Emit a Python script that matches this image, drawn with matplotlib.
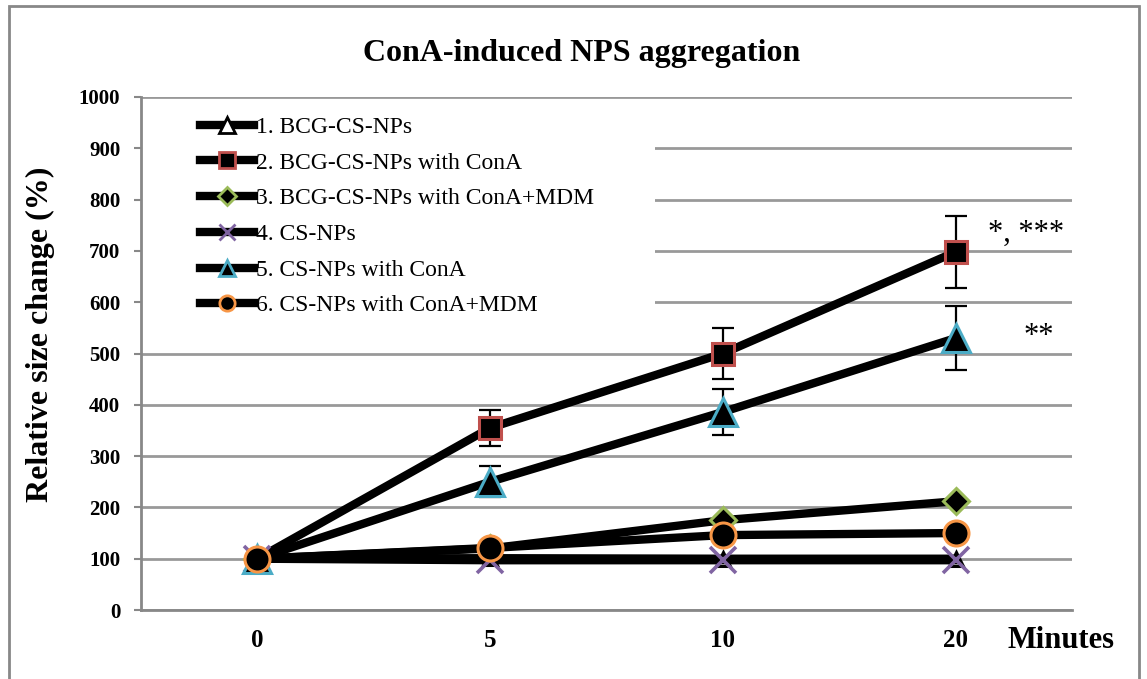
import matplotlib
matplotlib.use("Agg")
import matplotlib.pyplot as plt
from matplotlib.patches import Rectangle
from matplotlib.lines import Line2D

# ---- data ----
time_labels = ["0", "5", "10", "20"]
series_names = ["1. BCG-CS-NPs", "2. BCG-CS-NPs with ConA", "3. BCG-CS-NPs with ConA+MDM",
                "4. CS-NPs", "5. CS-NPs with ConA", "6. CS-NPs with ConA+MDM"]
s1 = [100, 101, 100, 100]
s2 = [100, 355, 500, 698]
s3 = [100, 120, 175, 212]
s4 = [100, 97, 97, 97]
s5 = [100, 250, 386, 530]
s6 = [100, 121, 146, 150]
s2_err = [0, 35, 50, 70]
s5_err = [0, 30, 45, 63]
yticks = [0, 100, 200, 300, 400, 500, 600, 700, 800, 900, 1000]
annot_texts = ["*, ***", "**"]
annot_pos = [(3.14, 735), (3.29, 534)]

FONT = "Liberation Serif"
plt.rcParams["font.family"] = [FONT, "DejaVu Serif"]

fig = plt.figure(figsize=(11.47, 6.79), dpi=100)
ax = fig.add_axes([141/1147, 69/679, (1072-141)/1147, (610-97)/679])

x = list(range(len(time_labels)))

styles = [
    dict(marker="^", mfc="white", mec="black", ms=10, every=None),
    dict(marker="s", mfc="black", mec="#C0504D", ms=16, every=[1, 2, 3]),
    dict(marker="D", mfc="black", mec="#9BBB59", ms=13, every=None),
    dict(marker="x", mfc="black", mec="#8064A2", ms=19, every=None),
    dict(marker="^", mfc="black", mec="#4BACC6", ms=20, every=None),
    dict(marker="o", mfc="black", mec="#F79646", ms=18, every=None),
]
data = [s1, s2, s3, s4, s5, s6]
errs = {1: s2_err, 4: s5_err}
leg_ms = [11, 11, 9, 11, 12, 11]

handles = []
for i, (vals, st) in enumerate(zip(data, styles)):
    if i in errs:
        ax.errorbar(x, vals, yerr=errs[i], fmt="none", ecolor="black",
                    elinewidth=1.6, capsize=8, capthick=1.6, zorder=3)
    ax.plot(x, vals, color="black", lw=6, zorder=4 + i * 0.1,
            marker=st["marker"], markerfacecolor=st["mfc"],
            markeredgecolor=st["mec"], markersize=st["ms"], markevery=st["every"],
            markeredgewidth=2.2 if st["marker"] != "x" else 2.6)
    handles.append(Line2D([], [], color="black", lw=6, marker=st["marker"],
                          markerfacecolor=st["mfc"], markeredgecolor=st["mec"],
                          markersize=leg_ms[i],
                          markeredgewidth=2.0))

ax.set_xlim(-0.5, 3.5)
ax.set_ylim(0, 1000)
ax.set_yticks(yticks)
ax.set_yticklabels([str(v) for v in yticks], fontsize=15, fontweight="bold", family=FONT)
ax.set_xticks(x)
ax.set_xticklabels(time_labels, fontsize=18, fontweight="bold", family=FONT)
ax.tick_params(axis="x", length=0, pad=14)
ax.tick_params(axis="y", length=5, width=1.5, color="#888888", pad=10)
ax.yaxis.grid(True, color="#999999", lw=2)
ax.set_axisbelow(True)
for s in ["top", "right"]:
    ax.spines[s].set_visible(False)
for s in ["left", "bottom"]:
    ax.spines[s].set_color("#888888")
    ax.spines[s].set_linewidth(2)

# white area behind legend hiding grid lines
ax.add_patch(Rectangle((0, 0.54), (655-141)/(1072-141), 0.44, transform=ax.transAxes,
                       facecolor="white", edgecolor="none", zorder=1))

leg = ax.legend(handles, series_names, loc="upper left",
                bbox_to_anchor=((197-141)/(1072-141) + 0.003, 0.962),
                frameon=False, prop={"family": FONT, "size": 17},
                handlelength=2.3, handletextpad=0.1, labelspacing=0.6,
                borderaxespad=0, borderpad=0)

for t, (px, py) in zip(annot_texts, annot_pos):
    ax.text(px, py, t, fontsize=22, family=FONT, ha="left", va="center")

fig.text(582/1147, 1 - 53/679, "ConA-induced NPS aggregation", fontsize=23,
         fontweight="bold", family=FONT, ha="center", va="center")
fig.text(40/1147, 1 - 334/679, "Relative size change (%)", fontsize=23,
         fontweight="bold", family=FONT, ha="center", va="center", rotation=90)
fig.text(1008/1147, 1 - 640/679, "Minutes", fontsize=22, fontweight="bold",
         family=FONT, ha="left", va="center")

fig.patches.append(Rectangle((9/1147, -0.02), (1139-9)/1147, 1.02 - 6/679,
                             transform=fig.transFigure, fill=False,
                             edgecolor="#888888", lw=2))

fig.savefig("out.png", dpi=100)
